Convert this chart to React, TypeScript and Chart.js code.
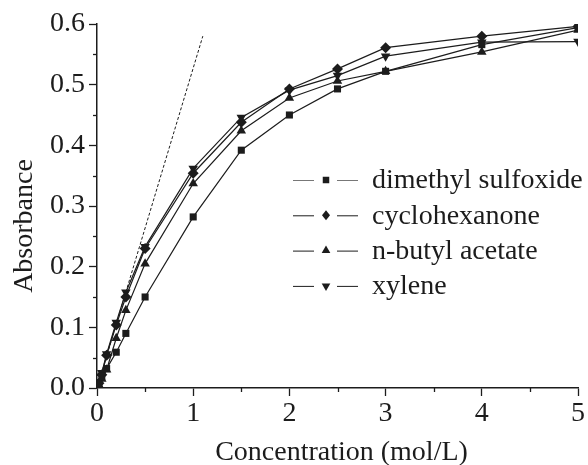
import React, { useEffect, useRef } from 'react';
import { Chart, registerables } from 'chart.js';

Chart.register(...registerables);

const INK = '#1c1c1c';
const FONT = "'Liberation Serif', 'Times New Roman', serif";

const concentrations = [0.02, 0.05, 0.1, 0.2, 0.3, 0.5, 1, 1.5, 2, 2.5, 3, 4, 5];
const dimethylSulfoxide = [0.006, 0.019, 0.032, 0.059, 0.09, 0.15, 0.282, 0.392, 0.45, 0.493, 0.522, 0.566, 0.594];
const cyclohexanone = [0.008, 0.022, 0.054, 0.104, 0.15, 0.23, 0.354, 0.438, 0.493, 0.526, 0.561, 0.58, 0.596];
const nButylAcetate = [0.005, 0.015, 0.03, 0.082, 0.128, 0.205, 0.337, 0.424, 0.478, 0.506, 0.522, 0.554, 0.59];
const xylene = [0.01, 0.025, 0.056, 0.108, 0.158, 0.233, 0.362, 0.446, 0.491, 0.515, 0.547, 0.57, 0.571];

const tangentX = [0, 1.1];
const tangentY = [0, 0.58];

const seriesNames = ['dimethyl sulfoxide', 'cyclohexanone', 'n-butyl acetate', 'xylene'];
const seriesValues = [dimethylSulfoxide, cyclohexanone, nButylAcetate, xylene];
const seriesMarkers = ['rect', 'rectRot', 'triangle', 'triangleDown'];

const yTicks = [0, 0.1, 0.2, 0.3, 0.4, 0.5, 0.6];
const yMinor = [0.05, 0.15, 0.25, 0.35, 0.45, 0.55];
const xTicks = [0, 1, 2, 3, 4, 5];
const xMinor = [0.5, 1.5, 2.5, 3.5, 4.5];

const xTitle = 'Concentration (mol/L)';
const yTitle = 'Absorbance';

function drawMarker(ctx: CanvasRenderingContext2D, kind: string, x: number, y: number, r: number) {
  ctx.beginPath();
  if (kind === 'rect') {
    const s = r * Math.SQRT1_2;
    ctx.rect(x - s, y - s, 2 * s, 2 * s);
  } else if (kind === 'rectRot') {
    ctx.moveTo(x, y - r);
    ctx.lineTo(x + r * 0.8, y);
    ctx.lineTo(x, y + r);
    ctx.lineTo(x - r * 0.8, y);
    ctx.closePath();
  } else if (kind === 'triangle') {
    ctx.moveTo(x, y - r);
    ctx.lineTo(x + r * 0.866, y + r * 0.5);
    ctx.lineTo(x - r * 0.866, y + r * 0.5);
    ctx.closePath();
  } else {
    ctx.moveTo(x, y + r);
    ctx.lineTo(x + r * 0.866, y - r * 0.5);
    ctx.lineTo(x - r * 0.866, y - r * 0.5);
    ctx.closePath();
  }
  ctx.fill();
}

const decorPlugin = {
  id: 'decor',
  afterDraw(chart: any) {
    const ctx: CanvasRenderingContext2D = chart.ctx;
    const xs = chart.scales.x;
    const ys = chart.scales.y;
    ctx.save();
    ctx.strokeStyle = INK;
    ctx.fillStyle = INK;
    ctx.lineWidth = 1.3;
    // minor ticks
    for (const v of yMinor) {
      const p = Math.round(ys.getPixelForValue(v)) + 0.5;
      ctx.beginPath();
      ctx.moveTo(ys.right - 4, p);
      ctx.lineTo(ys.right, p);
      ctx.stroke();
    }
    for (const v of xMinor) {
      const p = Math.round(xs.getPixelForValue(v)) + 0.5;
      ctx.beginPath();
      ctx.moveTo(p, xs.top);
      ctx.lineTo(p, xs.top + 4);
      ctx.stroke();
    }
    // axis titles
    ctx.font = `28px ${FONT}`;
    ctx.textAlign = 'center';
    ctx.textBaseline = 'alphabetic';
    ctx.fillText(xTitle, (xs.left + xs.right) / 2 + 4, 460);
    ctx.save();
    ctx.translate(32, 226);
    ctx.rotate(-Math.PI / 2);
    ctx.fillText(yTitle, 0, 0);
    ctx.restore();
    // legend
    ctx.textAlign = 'left';
    ctx.textBaseline = 'middle';
    seriesNames.forEach((name, i) => {
      const y = 180 + i * 35.3;
      ctx.lineWidth = 1;
      ctx.strokeStyle = i === 0 ? '#777' : INK;
      ctx.beginPath();
      ctx.moveTo(293, y + 0.5);
      ctx.lineTo(314, y + 0.5);
      ctx.moveTo(337, y + 0.5);
      ctx.lineTo(358, y + 0.5);
      ctx.stroke();
      drawMarker(ctx, seriesMarkers[i], 326, y, seriesMarkers[i] === 'rect' ? 4.6 : 5);
      ctx.fillText(name, 372, y + 1);
    });
    ctx.restore();
  },
};

export default function App() {
  const ref = useRef<HTMLCanvasElement>(null);
  useEffect(() => {
    if (!ref.current) return;
    const datasets: any[] = seriesValues.map((vals, i) => ({
      label: seriesNames[i],
      data: concentrations.map((c, j) => ({ x: c, y: vals[j] })),
      borderColor: INK,
      backgroundColor: INK,
      borderWidth: 1.2,
      pointStyle: seriesMarkers[i] === 'triangleDown' ? 'triangle' : seriesMarkers[i],
      rotation: seriesMarkers[i] === 'triangleDown' ? 180 : 0,
      pointRadius: seriesMarkers[i] === 'rect' ? 5 : 5.5,
      pointBorderWidth: 0,
      tension: 0,
      fill: false,
    }));
    datasets.push({
      label: 'tangent',
      data: tangentX.map((x, j) => ({ x, y: tangentY[j] })),
      borderColor: INK,
      borderWidth: 1,
      borderDash: [3, 2],
      pointRadius: 0,
      fill: false,
    });
    const chart = new Chart(ref.current, {
      type: 'line',
      data: { datasets },
      plugins: [decorPlugin],
      options: {
        animation: false,
        responsive: false,
        layout: { padding: { left: 0, top: 24, right: 10, bottom: 0 } },
        plugins: { legend: { display: false }, tooltip: { enabled: false } },
        scales: {
          x: {
            type: 'linear',
            min: 0,
            max: 5,
            afterFit: (s: any) => { s.height = 77; },
            afterBuildTicks: (s: any) => { s.ticks = xTicks.map((v) => ({ value: v })); },
            ticks: { color: INK, font: { family: FONT, size: 28, lineHeight: 1.2 }, padding: 1, maxRotation: 0, callback: (v: any) => String(v) },
            grid: { display: true, drawOnChartArea: false, drawTicks: true, tickLength: 8, tickColor: INK, tickWidth: 1.3 },
            border: { display: true, color: INK, width: 1.5 },
          },
          y: {
            type: 'linear',
            min: 0,
            max: 0.6,
            afterFit: (s: any) => { s.width = 97; },
            afterBuildTicks: (s: any) => { s.ticks = yTicks.map((v) => ({ value: v })); },
            ticks: { color: INK, font: { family: FONT, size: 28 }, padding: 4, callback: (v: any) => Number(v).toFixed(1) },
            grid: { display: true, drawOnChartArea: false, drawTicks: true, tickLength: 8, tickColor: INK, tickWidth: 1.3 },
            border: { display: true, color: INK, width: 1.5 },
          },
        },
      },
    });
    return () => chart.destroy();
  }, []);
  return (
    <div style={{ position: 'fixed', left: 0, top: 0, width: 588, height: 465, background: '#fff' }}>
      <canvas ref={ref} width={588} height={465} />
    </div>
  );
}
